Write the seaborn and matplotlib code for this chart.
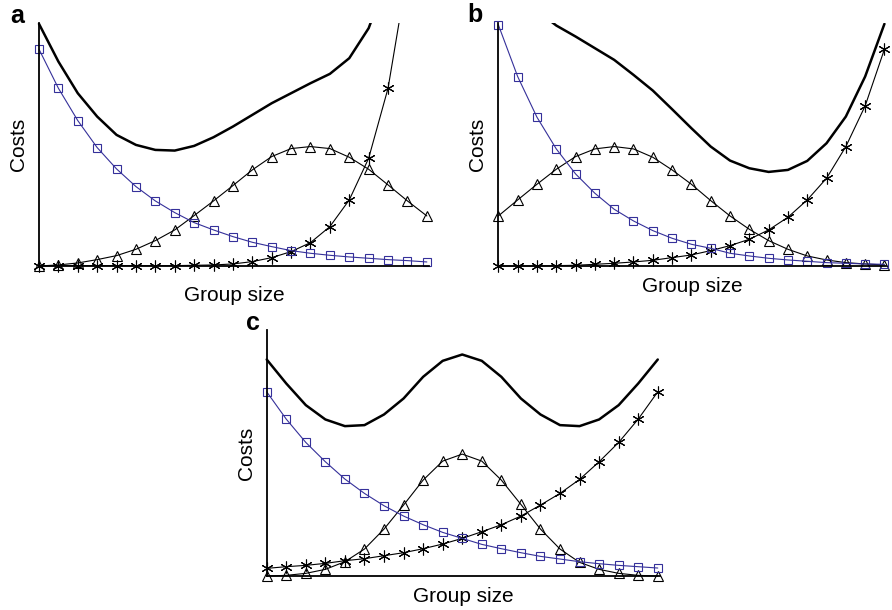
import numpy as np
import pandas as pd
import matplotlib
matplotlib.use("Agg")
import matplotlib.pyplot as plt
from matplotlib.patches import Rectangle
import seaborn as sns

sns.set_style("white")
plt.rcParams['font.family'] = ['Liberation Sans', 'DejaVu Sans']
plt.rcParams['text.color'] = 'black'
plt.rcParams['axes.labelcolor'] = 'black'

group_size = list(range(21))

# Panel a
a_square = [650, 533, 436, 355, 291, 238, 195, 160, 130, 108, 88, 71, 58, 46, 38, 32, 27, 23, 19, 16, 12]
a_triangle = [0, 3, 9, 19, 31, 50, 76, 108, 151, 195, 241, 288, 328, 352, 358, 352, 326, 290, 243, 195, 150]
a_star = [0, 1, 1, 1, 1, 1, 1, 1, 2, 3, 6, 13, 25, 43, 70, 118, 198, 323, 533, 880, 1450]
a_total = [726, 613, 518, 448, 393, 363, 348, 346, 360, 386, 418, 453, 488, 518, 548, 576, 623, 713, 870, 1166, 1687]

# Panel b
b_square = [723, 568, 446, 351, 276, 218, 170, 135, 106, 83, 65, 53, 38, 30, 23, 18, 14, 10, 8, 6, 5]
b_triangle = [150, 198, 245, 290, 328, 351, 358, 351, 326, 288, 245, 196, 150, 110, 76, 50, 30, 18, 10, 6, 3]
b_star = [0, 0, 0, 1, 2, 5, 8, 12, 17, 25, 33, 46, 61, 80, 108, 146, 198, 263, 358, 480, 650]
b_total = [948, 841, 766, 721, 688, 653, 618, 573, 526, 470, 413, 358, 316, 293, 282, 288, 315, 368, 448, 568, 726]

# Panel c
c_square = [553, 471, 401, 343, 291, 248, 211, 180, 154, 131, 113, 95, 82, 70, 59, 51, 43, 37, 32, 28, 24]
c_triangle = [0, 2, 8, 20, 43, 81, 141, 213, 288, 345, 366, 345, 288, 215, 141, 81, 41, 20, 8, 2, 0]
c_star = [23, 28, 32, 38, 46, 52, 61, 70, 82, 96, 113, 133, 154, 180, 213, 248, 290, 343, 401, 471, 553]
c_total = [650, 578, 513, 470, 450, 453, 485, 533, 598, 646, 665, 646, 598, 533, 485, 453, 450, 470, 513, 578, 650]

panels = [
    ("a", [0.0437, 0.564, 0.437, 0.398], a_square, a_triangle, a_star, a_total, 728),
    ("b", [0.5587, 0.564, 0.435, 0.398], b_square, b_triangle, b_star, b_total, 728),
    ("c", [0.299, 0.0557, 0.4406, 0.403], c_square, c_triangle, c_star, c_total, 738),
]

BLUE = "#35309a"
fig = plt.figure(figsize=(8.92, 6.10), dpi=100)

for letter, rect, sq, tri, st, tot, ytop in panels:
    ax = fig.add_axes(rect)
    df = pd.DataFrame({"x": group_size, "sq": sq, "tri": tri, "st": st, "tot": tot})
    sns.lineplot(data=df, x="x", y="tot", ax=ax, color="black", lw=1.8)
    sns.lineplot(data=df, x="x", y="tri", ax=ax, color="black", lw=0.8,
                 marker="^", ms=6.5, mfc="none", mec="black", mew=0.8)
    sns.lineplot(data=df, x="x", y="st", ax=ax, color="black", lw=0.8,
                 marker=(6, 2, 0), ms=8.5, mec="black", mew=0.8)
    sns.lineplot(data=df, x="x", y="sq", ax=ax, color=BLUE, lw=0.8,
                 marker="s", ms=6.3, mfc="none", mec=BLUE, mew=0.8)
    ax.set_xlim(0, 20.1)
    ax.set_ylim(0, ytop)
    # curves that run off the top are cut at the top edge; edge markers elsewhere show fully
    clip_top = Rectangle((-0.05, -0.1), 1.1, 1.1, transform=ax.transAxes,
                         facecolor="none", edgecolor="none")
    clip_wide = Rectangle((-0.05, -0.1), 1.1, 1.15, transform=ax.transAxes,
                          facecolor="none", edgecolor="none")
    for i, ln in enumerate(ax.lines):
        ln.set_clip_path(clip_top if i in (0, 2) else clip_wide)
    for s in ["top", "right"]:
        ax.spines[s].set_visible(False)
    for s in ["left", "bottom"]:
        ax.spines[s].set_color("black")
        ax.spines[s].set_linewidth(1.3)
    ax.set_yticks([])
    if letter == "a":
        ax.set_xticks([15])
        ax.set_xticklabels([""])
        ax.tick_params(axis="x", direction="out", length=3, width=1, color="black")
    else:
        ax.set_xticks([])
    ax.set_xlabel("Group size", fontsize=15, labelpad=8)
    ax.set_ylabel("Costs", fontsize=15, labelpad=8)

fig.text(10 / 892, 1 - 23 / 610, "a", fontsize=18, fontweight="bold", ha="left", va="baseline")
fig.text(467 / 892, 1 - 22 / 610, "b", fontsize=18, fontweight="bold", ha="left", va="baseline")
fig.text(246 / 892, 1 - 330 / 610, "c", fontsize=18, fontweight="bold", ha="left", va="baseline")

fig.savefig("out.png", dpi=100)
